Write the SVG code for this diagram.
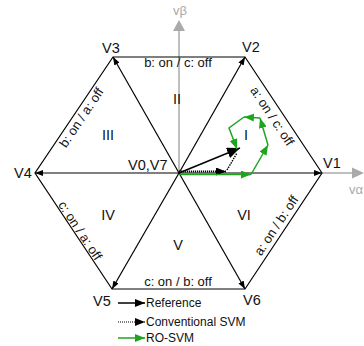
<svg xmlns="http://www.w3.org/2000/svg" width="364" height="346" viewBox="0 0 364 346">
<style>
text{font-family:"Liberation Sans",Arial,sans-serif;fill:#111}
.vl{font-size:14.5px}
.el{font-size:13px;text-anchor:middle}
.sec{font-size:14.5px;text-anchor:middle}
.lg{font-size:12px}
.ax{fill:#aaa;font-size:13px}
.k{stroke:#000;stroke-width:1.2;fill:none}
.g{stroke:#1ea51e;stroke-width:1.5;fill:none}
</style>
<defs>
<marker id="tip" markerUnits="userSpaceOnUse" markerWidth="9" markerHeight="7" refX="8" refY="3" orient="auto"><path d="M0,0 L8,3 L0,6 z" fill="#000"/></marker>
<marker id="big" markerUnits="userSpaceOnUse" markerWidth="14" markerHeight="12" refX="13" refY="5.5" orient="auto"><path d="M0,0 L13,5.5 L0,11 z" fill="#000"/></marker>
<marker id="mid" markerUnits="userSpaceOnUse" markerWidth="11" markerHeight="9" refX="10" refY="4" orient="auto"><path d="M0,0 L10,4 L0,8 z" fill="#000"/></marker>
<marker id="gt" markerUnits="userSpaceOnUse" markerWidth="11" markerHeight="9" refX="10" refY="4" orient="auto"><path d="M0,0 L10,4 L0,8 z" fill="#1ea51e"/></marker>
</defs>
<g id="axes">
<line x1="179" y1="173" x2="179" y2="30" stroke="#aaa" stroke-width="1.5"/>
<path d="M179,20 L185,31 L173,31 z" fill="#aaa"/>
<line x1="322" y1="173" x2="353" y2="173" stroke="#aaa" stroke-width="1.5"/>
<path d="M364,173 L352,167.5 L352,178.5 z" fill="#aaa"/>
<text class="ax" x="173" y="15">vβ</text>
<text class="ax" x="349" y="194">vα</text>
</g>
<g id="connectors">
<polygon class="k" points="322,173 245,57 113,57 35,173 112,289 245,289"/>
<line class="k" x1="179" y1="173" x2="322" y2="173" marker-end="url(#tip)"/>
<line class="k" x1="179" y1="173" x2="245" y2="57" marker-end="url(#tip)"/>
<line class="k" x1="179" y1="173" x2="113" y2="57" marker-end="url(#tip)"/>
<line class="k" x1="179" y1="173" x2="35" y2="173" marker-end="url(#tip)"/>
<line class="k" x1="179" y1="173" x2="112" y2="289" marker-end="url(#tip)"/>
<line class="k" x1="179" y1="173" x2="245" y2="289" marker-end="url(#tip)"/>
</g>
<g id="vertices">
<text class="vl" x="323" y="168">V1</text>
<text class="vl" x="242" y="52">V2</text>
<text class="vl" x="102" y="53">V3</text>
<text class="vl" x="14" y="178">V4</text>
<text class="vl" x="93" y="306">V5</text>
<text class="vl" x="243" y="305">V6</text>
<text class="vl" x="128" y="170">V0,V7</text>
</g>
<g id="edge-labels">
<text class="el" x="178" y="67">b: on / c: off</text>
<text class="el" x="178" y="286">c: on / b: off</text>
<text class="el" transform="translate(268.5,118.5) rotate(56.4)">a: on / c: off</text>
<text class="el" transform="translate(85,120) rotate(-56.1)">b: on / a: off</text>
<text class="el" transform="translate(76.5,233) rotate(56.4)">c: on / a: off</text>
<text class="el" transform="translate(280,228) rotate(-56.4)">a: on / b: off</text>
</g>
<g id="sectors">
<text class="sec" x="246" y="140">I</text>
<text class="sec" x="177" y="104">II</text>
<text class="sec" x="108" y="140">III</text>
<text class="sec" x="108" y="220">IV</text>
<text class="sec" x="178" y="250">V</text>
<text class="sec" x="244" y="220">VI</text>
</g>
<g id="vectors">
<line x1="179" y1="171.5" x2="226" y2="171.5" stroke="#000" stroke-width="2" stroke-dasharray="1.2 0.8" marker-end="url(#mid)"/>
<line x1="227" y1="170" x2="237" y2="153" stroke="#000" stroke-width="1.4" stroke-dasharray="1.5 1"/>
<line x1="179" y1="173" x2="240" y2="148" stroke="#000" stroke-width="1.5" marker-end="url(#big)"/>
<line class="g" x1="179" y1="174.5" x2="251" y2="174.5" marker-end="url(#gt)"/>
<line class="g" x1="251" y1="174.5" x2="268" y2="145" marker-end="url(#gt)"/>
<line class="g" x1="268" y1="145" x2="260" y2="118" marker-end="url(#gt)"/>
<line class="g" x1="260" y1="118" x2="244" y2="117" marker-end="url(#gt)"/>
<polyline class="g" points="244,117 229,128 237,149" marker-end="url(#gt)"/>
</g>
<g id="legend">
<line x1="118" y1="303" x2="145" y2="303" stroke="#000" stroke-width="1.5" marker-end="url(#mid)"/>
<text class="lg" x="146" y="307">Reference</text>
<line x1="118" y1="322" x2="145" y2="322" stroke="#000" stroke-width="1.2" stroke-dasharray="1 1" marker-end="url(#mid)"/>
<text class="lg" x="146" y="326">Conventional SVM</text>
<line class="g" x1="118" y1="338" x2="145" y2="338" marker-end="url(#gt)"/>
<text class="lg" x="146" y="342">RO-SVM</text>
</g>
</svg>
